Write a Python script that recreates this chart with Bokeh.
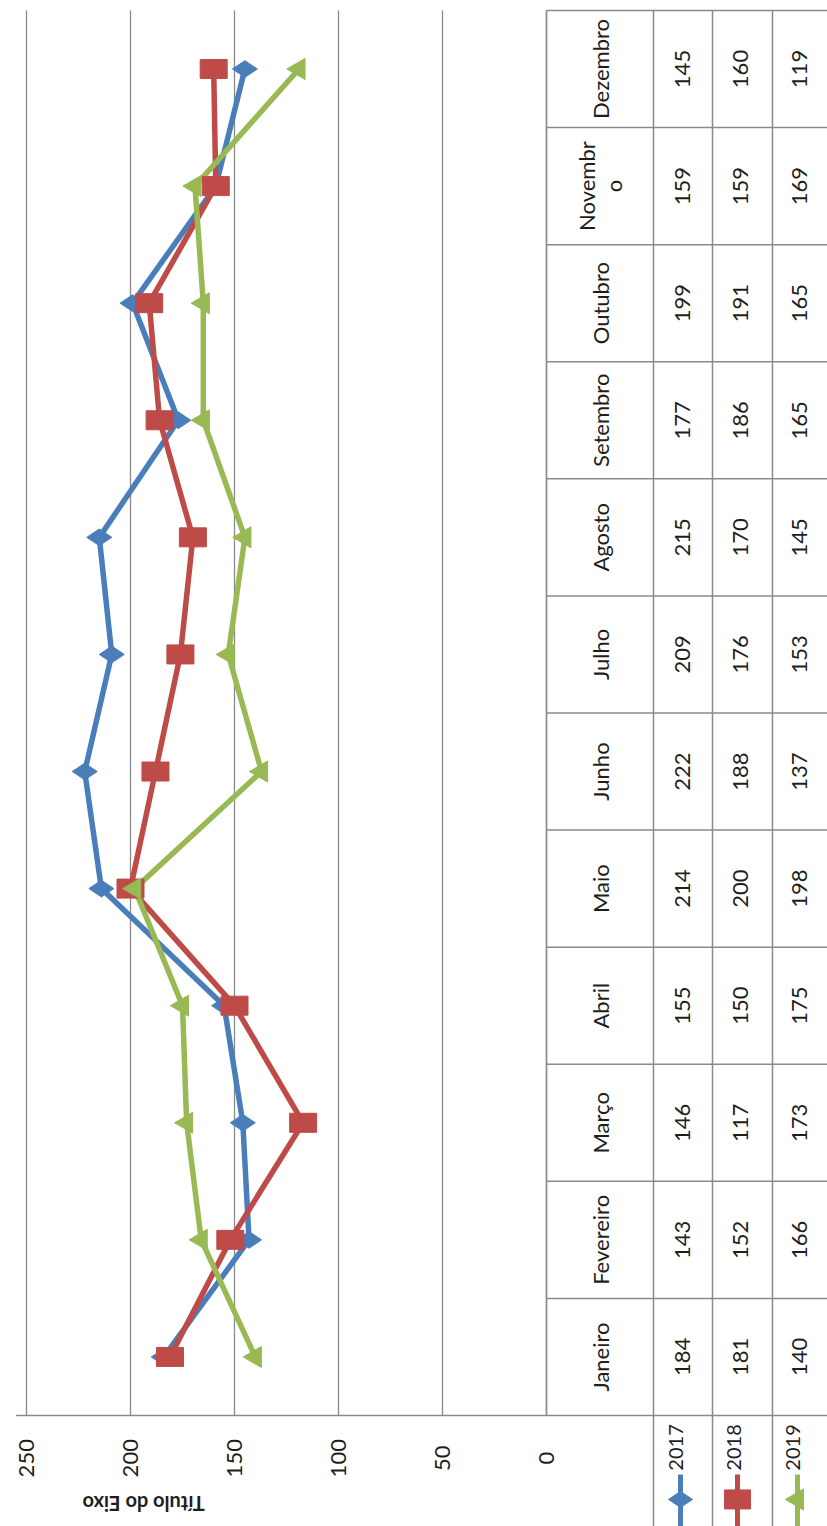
from math import pi
from bokeh.plotting import figure
from bokeh.models import Range1d, ColumnDataSource
from bokeh.core.properties import value
from bokeh.embed import file_html
from bokeh.resources import INLINE

# ---- data ----
months = ["Janeiro", "Fevereiro", "Março", "Abril", "Maio", "Junho", "Julho",
          "Agosto", "Setembro", "Outubro", "Novembr\no", "Dezembro"]
s2017 = [184, 143, 146, 155, 214, 222, 209, 215, 177, 199, 159, 145]
s2018 = [181, 152, 117, 150, 200, 188, 176, 170, 186, 191, 159, 160]
s2019 = [140, 166, 173, 175, 198, 137, 153, 145, 165, 165, 169, 119]
series_names = ["2017", "2018", "2019"]
value_ticks = [0, 50, 100, 150, 200, 250]
axis_title = "Título do Eixo"

colors = ["#4A7EBB", "#BE4B48", "#98B954"]
grid_col = "#8a8a8a"
txt_col = "#1e1e1e"
FONT = value("Lato")

n = len(months)
ypos = [i + 0.5 for i in range(n)]

# One canvas: value scale runs right-to-left (chart is rotated), months bottom-to-top.
p = figure(width=827, height=1526,
           x_range=Range1d(262.5, -135.1), y_range=Range1d(-0.948, 12.085),
           output_backend="svg", toolbar_location=None, min_border=0,
           x_axis_type=None, y_axis_type=None)
p.grid.visible = False
p.outline_line_color = None
# second horizontal scale for the data table (pixels to the right of the value 0 line)
p.extra_x_ranges = {"tbl": Range1d(-546, 281)}

# value gridlines and axis line
p.segment(x0=value_ticks, y0=[0] * len(value_ticks), x1=value_ticks, y1=[n] * len(value_ticks),
          line_color=grid_col, line_width=1.3)
p.segment(x0=[255], y0=[0], x1=[0], y1=[0], line_color=grid_col, line_width=1.5)

# value tick labels (rotated with the chart)
p.text(x=value_ticks, y=[-0.365] * len(value_ticks), text=[str(v) for v in value_ticks],
       angle=pi / 2, text_align="center", text_baseline="middle",
       text_font=FONT, text_font_size="22px", text_color=txt_col)
# axis title (upside down)
p.text(x=[193.7], y=[-0.755], text=[axis_title], angle=pi, text_align="center",
       text_baseline="middle", text_font=FONT, text_font_style="bold",
       text_font_size="20px", text_color=txt_col)

# series
src = ColumnDataSource(dict(y=ypos, a=s2017, b=s2018, c=s2019))
p.line("a", "y", source=src, color=colors[0], line_width=5.5)
p.line("b", "y", source=src, color=colors[1], line_width=5.5)
p.line("c", "y", source=src, color=colors[2], line_width=5.5)
p.scatter("a", "y", source=src, marker="diamond", size=25, angle=pi / 2,
          fill_color=colors[0], line_color=colors[0])
p.rect("b", "y", source=src, width=27, height=19, width_units="screen", height_units="screen",
       fill_color=colors[1], line_color=colors[1])
p.scatter("c", "y", source=src, marker="triangle", size=21, angle=pi / 2,
          fill_color=colors[2], line_color=colors[2])

# ---- data table ----
hy = list(range(n + 1))
p.segment(x0=[0] * (n + 1), y0=hy, x1=[281] * (n + 1), y1=hy, x_range_name="tbl",
          line_color=grid_col, line_width=1.5)
p.segment(x0=[0], y0=[0], x1=[0], y1=[n], x_range_name="tbl", line_color=grid_col, line_width=1.5)
colx = [107, 166, 226]
p.segment(x0=colx, y0=[-0.95] * 3, x1=colx, y1=[n] * 3, x_range_name="tbl",
          line_color=grid_col, line_width=1.5)

tsrc = ColumnDataSource(dict(y=ypos, m=months,
                             a=[str(v) for v in s2017],
                             b=[str(v) for v in s2018],
                             c=[str(v) for v in s2019]))
p.text(x=53.5, y="y", text="m", source=tsrc, x_range_name="tbl", angle=pi / 2,
       text_align="center", text_baseline="middle", text_font=FONT,
       text_font_size="22px", text_color=txt_col, text_line_height=1.0)
valx = [136, 194, 253]
for k, col in enumerate(["a", "b", "c"]):
    p.text(x=valx[k], y="y", text=col, source=tsrc, x_range_name="tbl", angle=pi / 2,
           text_align="center", text_baseline="middle", text_font=FONT,
           text_font_size="22px", text_color=txt_col)

# ---- legend keys (under the series columns) ----
legtx = [129, 187, 246]
legkx = [134, 191, 251]
for k, name in enumerate(series_names):
    p.text(x=[legtx[k]], y=[-0.273], text=[name], x_range_name="tbl", angle=pi / 2,
           text_align="center", text_baseline="middle", text_font=FONT,
           text_font_size="20px", text_color=txt_col)
    p.segment(x0=[legkx[k]], y0=[-0.504], x1=[legkx[k]], y1=[-0.95], x_range_name="tbl",
              line_color=colors[k], line_width=5)
ky = [-0.717]
p.scatter([legkx[0]], ky, x_range_name="tbl", marker="diamond", size=24, angle=pi / 2,
          fill_color=colors[0], line_color=colors[0])
p.rect([legkx[1]], ky, x_range_name="tbl", width=26, height=19, width_units="screen",
       height_units="screen", fill_color=colors[1], line_color=colors[1])
p.scatter([legkx[2]], ky, x_range_name="tbl", marker="triangle", size=21, angle=pi / 2,
          fill_color=colors[2], line_color=colors[2])

open("out.html", "w").write(file_html(p, INLINE))
